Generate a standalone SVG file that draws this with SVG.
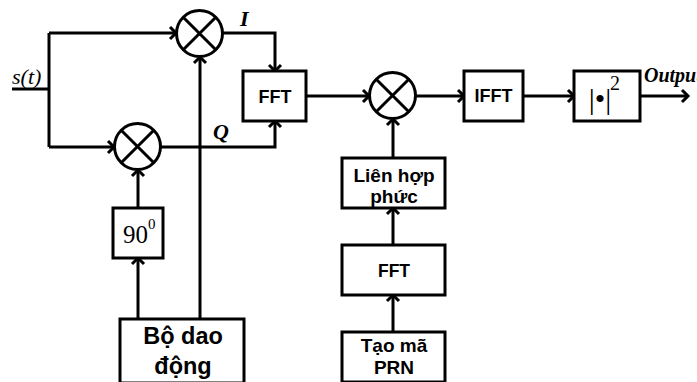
<svg xmlns="http://www.w3.org/2000/svg" width="697" height="382" viewBox="0 0 697 382">
<defs>
<marker id="arr" markerUnits="userSpaceOnUse" viewBox="-8 -8 10 16" refX="0" refY="0" markerWidth="10" markerHeight="16" orient="auto" overflow="visible">
<path d="M-6,-6 L0,0 L-6,6" fill="none" stroke="#000" stroke-width="3" stroke-linejoin="miter"/>
</marker>
<style>
.b{fill:#fff;stroke:#000;stroke-width:3}
.m{fill:#fff;stroke:#000;stroke-width:3}
.c{fill:none;stroke:#000;stroke-width:3}
.t{font-family:"Liberation Sans",Arial,sans-serif;font-weight:bold;text-anchor:middle;fill:#000}
.s{font-family:"Liberation Serif","Times New Roman",serif;fill:#000}
</style>
</defs>
<rect width="697" height="382" fill="#fff"/>
<g id="connectors" class="c">
<path d="M12,89 H49"/>
<path d="M49,33 V147"/>
<path d="M49,33 H176" marker-end="url(#arr)"/>
<path d="M49,147 H114" marker-end="url(#arr)"/>
<path d="M200,319 V57" marker-end="url(#arr)"/>
<path d="M138,208 V170" marker-end="url(#arr)"/>
<path d="M138,319 V258" marker-end="url(#arr)"/>
<path d="M223,33 H275 V71" marker-end="url(#arr)"/>
<path d="M161,147 H275 V121" marker-end="url(#arr)"/>
<path d="M306,96 H369" marker-end="url(#arr)"/>
<path d="M416,96 H464" marker-end="url(#arr)"/>
<path d="M523,96 H574" marker-end="url(#arr)"/>
<path d="M640,96 H688" marker-end="url(#arr)"/>
<path d="M393,158 V119" marker-end="url(#arr)"/>
<path d="M393,245 V208" marker-end="url(#arr)"/>
<path d="M393,332 V295" marker-end="url(#arr)"/>
</g>
<g id="input">
<text class="s" x="12" y="84" font-size="22" font-style="italic">s(t)</text>
</g>
<g id="mixI">
<circle class="m" cx="199.5" cy="33.5" r="23"/>
<path class="c" d="M183.2,17.2 L215.8,49.8 M215.8,17.2 L183.2,49.8"/>
<text class="s" x="240" y="26" font-size="22" font-style="italic" font-weight="bold">I</text>
</g>
<g id="mixQ">
<circle class="m" cx="137.5" cy="146.5" r="23"/>
<path class="c" d="M121.2,130.2 L153.8,162.8 M153.8,130.2 L121.2,162.8"/>
<text class="s" x="213" y="139" font-size="22" font-style="italic" font-weight="bold">Q</text>
</g>
<g id="fft1">
<rect class="b" x="243" y="71" width="63" height="50"/>
<text class="t" x="275" y="103" font-size="18">FFT</text>
</g>
<g id="phase">
<rect class="b" x="113" y="208" width="50" height="50"/>
<text class="s" x="123" y="243" font-size="25">90<tspan dy="-14" font-size="15">0</tspan></text>
</g>
<g id="osc">
<rect class="b" x="120" y="319" width="124" height="64"/>
<text class="t" x="183" y="344" font-size="23.5">Bộ dao</text>
<text class="t" x="183" y="374" font-size="23.5">động</text>
</g>
<g id="mix3">
<circle class="m" cx="392.5" cy="95.5" r="23"/>
<path class="c" d="M376.2,79.2 L408.8,111.8 M408.8,79.2 L376.2,111.8"/>
</g>
<g id="ifft">
<rect class="b" x="464" y="71" width="59" height="50"/>
<text class="t" x="493.5" y="102" font-size="18">IFFT</text>
</g>
<g id="abs2">
<rect class="b" x="574" y="71" width="66" height="50"/>
<text class="s" x="600" y="109" font-size="30" text-anchor="middle">|•|</text>
<text class="s" x="610" y="90" font-size="20">2</text>
</g>
<g id="output">
<text class="s" x="644" y="82" font-size="20" font-style="italic" font-weight="bold">Output</text>
</g>
<g id="conj">
<rect class="b" x="342" y="158" width="103" height="50"/>
<text class="t" x="394" y="182" font-size="19">Liên hợp</text>
<text class="t" x="394" y="203" font-size="19">phức</text>
</g>
<g id="fft2">
<rect class="b" x="342" y="245" width="103" height="50"/>
<text class="t" x="394" y="277" font-size="17.5">FFT</text>
</g>
<g id="prn">
<rect class="b" x="342" y="332" width="103" height="50"/>
<text class="t" x="394" y="352" font-size="19">Tạo mã</text>
<text class="t" x="394" y="374" font-size="19">PRN</text>
</g>
</svg>
